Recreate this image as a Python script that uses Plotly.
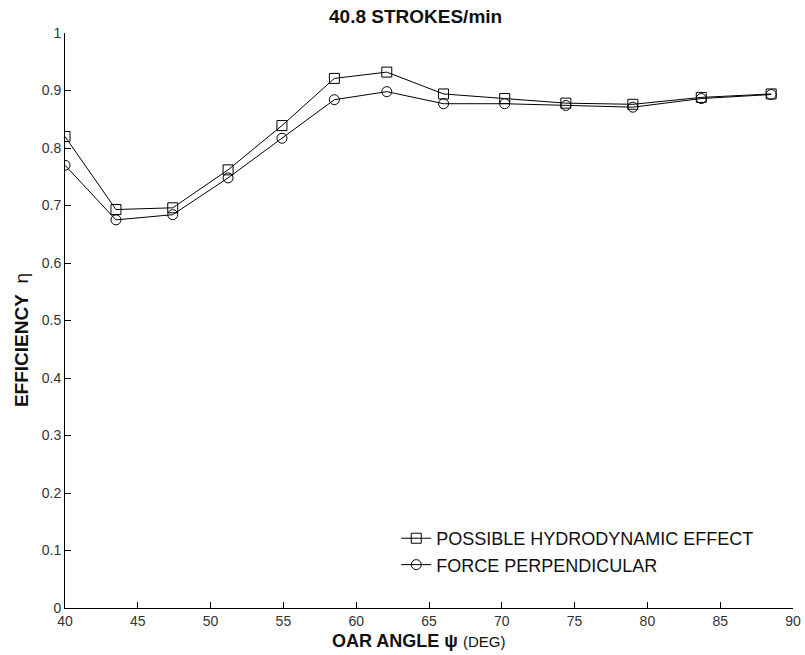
import plotly.graph_objects as go

angle = [40.0, 43.5, 47.4, 51.2, 54.9, 58.5, 62.1, 66.0, 70.2, 74.4, 79.0, 83.7, 88.5]
hydro = [0.820, 0.693, 0.696, 0.762, 0.839, 0.921, 0.932, 0.894, 0.886, 0.878, 0.876, 0.888, 0.894]
perp = [0.770, 0.675, 0.684, 0.748, 0.817, 0.884, 0.898, 0.877, 0.877, 0.874, 0.871, 0.886, 0.893]

x_ticks = [40, 45, 50, 55, 60, 65, 70, 75, 80, 85, 90]
y_ticks = [0, 0.1, 0.2, 0.3, 0.4, 0.5, 0.6, 0.7, 0.8, 0.9, 1]
y_labels = ["0", "0.1", "0.2", "0.3", "0.4", "0.5", "0.6", "0.7", "0.8", "0.9", "1"]

FONT = "Liberation Sans, Arial, sans-serif"

fig = go.Figure()
fig.add_trace(go.Scatter(
    x=angle, y=hydro, mode="lines+markers", name="POSSIBLE HYDRODYNAMIC EFFECT",
    line=dict(color="black", width=1),
    marker=dict(symbol="square-open", size=10, color="black", line=dict(width=1)),
))
fig.add_trace(go.Scatter(
    x=angle, y=perp, mode="lines+markers", name="FORCE PERPENDICULAR",
    line=dict(color="black", width=1),
    marker=dict(symbol="circle-open", size=10, color="black", line=dict(width=1)),
))

fig.update_layout(
    width=805, height=655,
    margin=dict(l=65, r=12, t=33, b=47),
    paper_bgcolor="white", plot_bgcolor="white",
    font=dict(family=FONT, size=14, color="#222"),
    showlegend=True,
    legend=dict(x=0.455, y=0.153, xanchor="left", yanchor="top",
                bgcolor="rgba(0,0,0,0)", font=dict(size=18, color="#111"),
                itemwidth=30, tracegroupgap=0),
    xaxis=dict(range=[40, 90], tickvals=x_ticks, ticks="inside", ticklen=6,
               showline=True, linecolor="black", linewidth=1, tickcolor="black",
               showgrid=False, zeroline=False, mirror=False, automargin=False,
               tickfont=dict(size=14, color="#333")),
    yaxis=dict(range=[0, 1], tickvals=y_ticks, ticktext=y_labels, ticks="inside", ticklen=6,
               showline=True, linecolor="black", linewidth=1, tickcolor="black",
               showgrid=False, zeroline=False, mirror=False, automargin=False,
               tickfont=dict(size=14, color="#333")),
    annotations=[
        dict(text="<b>40.8 STROKES/min</b>", x=0.482, y=1, xref="paper", yref="paper",
             xanchor="center", yanchor="middle", yshift=17, showarrow=False,
             font=dict(size=19, color="#111")),
        dict(text="<b>OAR ANGLE ψ</b> <span style='font-size:15px'>(DEG)</span>",
             x=0.486, y=0, xref="paper", yref="paper", xanchor="center", yanchor="middle",
             yshift=-33, showarrow=False, font=dict(size=18, color="#111")),
        dict(text="<b>EFFICIENCY</b>  η", x=0, y=0.466, xref="paper", yref="paper",
             xanchor="center", yanchor="middle", xshift=-44, textangle=-90,
             showarrow=False, font=dict(size=19, color="#111")),
    ],
)

fig.write_html("out.html", config={"displayModeBar": False},
               post_script="document.body.style.margin='0px';document.body.style.overflow='hidden';")
